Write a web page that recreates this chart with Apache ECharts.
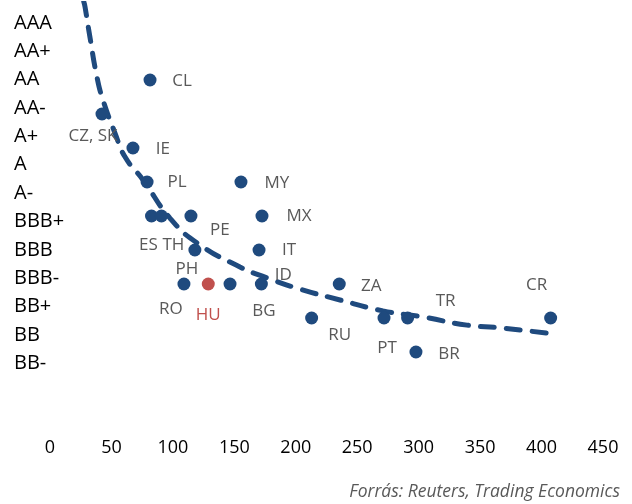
<!DOCTYPE html>
<html>
<head>
<meta charset="utf-8">
<script src="https://cdn.jsdelivr.net/npm/echarts@6/dist/echarts.min.js"></script>
<style>
html,body{margin:0;padding:0;background:#fff;}
#chart{width:632px;height:504px;}
</style>
</head>
<body>
<div id="chart"></div>
<script>
// Rating scale (labels of the left column; 1 = AAA)
const ratingScale = ['AAA','AA+','AA','AA-','A+','A','A-','BBB+','BBB','BBB-','BB+','BB','BB-'];
// x-axis ticks
const xTicks = [0, 50, 100, 150, 200, 250, 300, 350, 400, 450];
// Countries, spreads (x) and rating positions (y)
const countries = ['CL','CZ, SK','IE','PL','MY','ES','TH','PE','MX','PH','IT','RO','HU','BG','ID','ZA','RU','PT','TR','CR','BR'];
const spreads   = [81.4, 42.3, 67.5, 79, 155.4, 82.6, 90.7, 114.7, 172.5, 117.9, 170.1, 109, 128.8, 146.5, 172, 235.4, 212.9, 271.8, 291, 407.4, 297.8];
const ratings   = ['AA','AA-','A+','A','A','A-','A-','A-','A-','BBB+','BBB+','BBB','BBB','BBB','BBB','BBB','BBB-','BBB-','BBB-','BBB-','BB+'];
// Trend line (spread, rating position)
const trendX = [27.5, 28.5, 32.5, 38.2, 43.1, 52.9, 61.0, 75.7, 97.6, 119.6, 154.6, 176.6, 203.4, 236.0, 271.0, 303.5, 339.3, 366.2, 410.0];
const trendY = [0.70, 0.85, 1.74, 2.91, 3.59, 4.56, 5.26, 5.94, 7.06, 7.79, 8.50, 8.82, 9.15, 9.47, 9.79, 9.97, 10.21, 10.29, 10.47];
const highlight = 'HU';
const source = 'Forrás: Reuters, Trading Economics';

// style: label offsets (px) for each country label
const labelOffsets = {
  'CL':[32,1], 'CZ, SK':[-9,22], 'IE':[30,1], 'PL':[30,0], 'MY':[36,1],
  'ES':[-3,29], 'TH':[12,29], 'PE':[29,14], 'MX':[37,0], 'PH':[-8,19], 'IT':[30,0],
  'RO':[-13,25], 'HU':[0,31], 'BG':[34,27], 'ID':[22,-9], 'ZA':[32,2],
  'RU':[28,17], 'PT':[3,30], 'TR':[38,-17], 'CR':[-14,-33], 'BR':[33,2]
};
const BLUE = '#1F4A7E', RED = '#C0504D', GRAY = '#595959';
const FONT = 'Open Sans';

const pointData = countries.map((c, i) => {
  const isHi = c === highlight;
  return {
    name: c,
    value: [spreads[i], ratingScale.indexOf(ratings[i]) + 1],
    itemStyle: { color: isHi ? RED : BLUE, opacity: 1 },
    label: { offset: labelOffsets[c], color: isHi ? RED : GRAY }
  };
});
const trendData = trendX.map((x, i) => [x, trendY[i]]);

const chart = echarts.init(document.getElementById('chart'), null, { renderer: 'canvas' });
chart.setOption({
  animation: false,
  backgroundColor: '#fff',
  grid: [
    { left: 50, right: 29, top: 3.5, bottom: 67 },
    { left: 14, width: 1, top: 8.8, height: 368.7 }
  ],
  xAxis: [
    {
      type: 'value', gridIndex: 0, min: xTicks[0], max: xTicks[xTicks.length - 1], interval: 50,
      axisLine: { show: false }, axisTick: { show: false }, splitLine: { show: false },
      axisLabel: { color: '#000', fontFamily: FONT, fontSize: 18, margin: 2 }
    },
    { type: 'value', gridIndex: 1, show: false }
  ],
  yAxis: [
    {
      type: 'value', gridIndex: 0, inverse: true, min: 0.75, max: 13.5,
      axisLine: { show: false }, axisTick: { show: false }, splitLine: { show: false },
      axisLabel: { show: false }
    },
    {
      type: 'category', gridIndex: 1, data: ratingScale, inverse: true,
      axisLine: { show: false }, axisTick: { show: false }, splitLine: { show: false },
      axisLabel: { inside: true, margin: 0, color: '#000', fontFamily: FONT, fontSize: 20, align: 'left' }
    }
  ],
  series: [
    {
      type: 'line', xAxisIndex: 0, yAxisIndex: 0, data: trendData,
      smooth: true, showSymbol: false, symbol: 'none', clip: true,
      lineStyle: { color: BLUE, width: 5, type: [14, 12], cap: 'round', opacity: 1 },
      z: 3
    },
    {
      type: 'scatter', xAxisIndex: 0, yAxisIndex: 0, data: pointData,
      symbol: 'circle', symbolSize: 13,
      itemStyle: { opacity: 1 },
      label: {
        show: true, position: 'inside', formatter: '{b}',
        fontFamily: FONT, fontSize: 17, color: GRAY, align: 'center', verticalAlign: 'middle'
      },
      z: 4
    }
  ],
  graphic: [
    {
      type: 'text', right: 12, top: 483,
      style: { text: source, fill: GRAY, font: 'italic 17.5px "Open Sans"', textAlign: 'right' }
    }
  ]
});
</script>
</body>
</html>
